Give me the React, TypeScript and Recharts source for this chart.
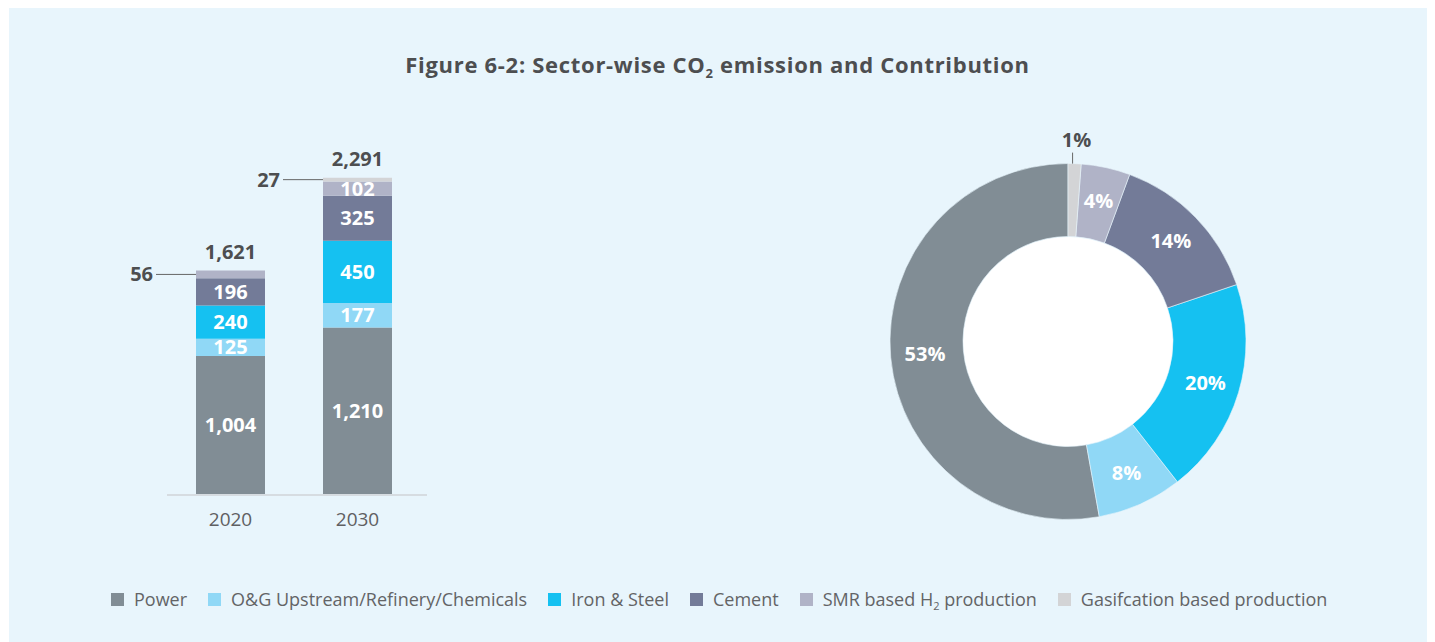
import React from "react";
import {
  BarChart,
  Bar,
  XAxis,
  YAxis,
  LabelList,
  ReferenceDot,
  PieChart,
  Pie,
  Cell,
} from "recharts";

const years = ["2020", "2030"];
const power = [1004, 1210];
const oilGas = [125, 177];
const ironSteel = [240, 450];
const cement = [196, 325];
const smr = [56, 102];
const gasification = [0, 27];
const totals = [1621, 2291];

const sectorKeys = ["power", "oilGas", "ironSteel", "cement", "smr", "gasification"];
const sectorNames = [
  "Power",
  "O&G Upstream/Refinery/Chemicals",
  "Iron & Steel",
  "Cement",
  "SMR based H2 production",
  "Gasifcation based production",
];
const sectorColors = ["#818d95", "#90d8f6", "#15c1f1", "#737b98", "#b0b3c7", "#d3d4d6"];

const barData = years.map((year, i) => ({
  year,
  power: power[i],
  oilGas: oilGas[i],
  ironSteel: ironSteel[i],
  cement: cement[i],
  smr: smr[i],
  gasification: gasification[i],
}));

// donut shows the 2030 split
const pieData = sectorKeys.map((key, i) => ({
  name: sectorNames[i],
  value: (barData[1] as any)[key],
  color: sectorColors[i],
}));

const FONT = "'Open Sans', Roboto, sans-serif";
const DARK = "#4d4e50";
const PANEL_BG = "#e8f5fc";

function fmt(v: number) {
  return v.toLocaleString("en-US");
}

function SegmentLabel(props: any) {
  const { x, y, width, height, value } = props;
  if (!value) return null;
  if (height < 10) {
    // too thin, put it on the left with a leader line
    const cy = y + height / 2;
    return (
      <g>
        <line x1={x - 40} y1={cy} x2={x} y2={cy} stroke="#666" strokeWidth={1} />
        <text
          x={x - 43}
          y={cy + 7}
          textAnchor="end"
          fill={DARK}
          fontSize={20}
          fontWeight={700}
          fontFamily={FONT}
        >
          {fmt(value)}
        </text>
      </g>
    );
  }
  return (
    <text
      x={x + width / 2}
      y={y + height / 2 + 7}
      textAnchor="middle"
      fill="#fff"
      fontSize={20}
      fontWeight={700}
      fontFamily={FONT}
    >
      {fmt(value)}
    </text>
  );
}

function YearTick(props: any) {
  const { x, y, payload } = props;
  return (
    <text x={x} y={y + 29} textAnchor="middle" fill="#5f6062" fontSize={19} fontFamily={FONT}>
      {payload.value}
    </text>
  );
}

const RAD = Math.PI / 180;

function PieLabel(props: any) {
  const { cx, cy, midAngle, innerRadius, outerRadius, percent } = props;
  const pct = Math.round(percent * 100);
  if (percent < 0.02) {
    const ox = cx + outerRadius * Math.cos(-midAngle * RAD) - 2;
    const oy = cy + outerRadius * Math.sin(-midAngle * RAD);
    return (
      <g>
        <line x1={ox} y1={oy} x2={ox} y2={oy - 11} stroke="#666" strokeWidth={1} />
        <text
          x={ox + 4}
          y={oy - 17}
          textAnchor="middle"
          fill={DARK}
          fontSize={20}
          fontWeight={700}
          fontFamily={FONT}
        >
          {pct}%
        </text>
      </g>
    );
  }
  const r = (innerRadius + outerRadius) / 2 + 2;
  const lx = cx + r * Math.cos(-midAngle * RAD);
  const ly = cy + r * Math.sin(-midAngle * RAD);
  return (
    <text
      x={lx}
      y={ly + 7}
      textAnchor="middle"
      fill="#fff"
      fontSize={20}
      fontWeight={700}
      fontFamily={FONT}
    >
      {pct}%
    </text>
  );
}

function LegendLabel({ name }: { name: string }) {
  if (name.includes("H2")) {
    const [a, b] = name.split("H2");
    return (
      <span>
        {a}H<sub style={{ fontSize: 11, verticalAlign: -4, lineHeight: 0 }}>2</sub>
        {b}
      </span>
    );
  }
  return <span>{name}</span>;
}

export default function App() {
  return (
    <div
      style={{
        position: "relative",
        margin: "-8px 0 0 -8px",
        width: 1435,
        height: 642,
        background: "#fff",
        fontFamily: FONT,
        overflow: "hidden",
      }}
    >
      <div
        style={{
          position: "absolute",
          left: 9,
          top: 7,
          width: 1421,
          height: 635,
          background: PANEL_BG,
        }}
      />

      <div
        style={{
          position: "absolute",
          left: 0,
          width: 1435,
          top: 50,
          textAlign: "center",
          fontSize: 22,
          fontWeight: 700,
          letterSpacing: 0.7,
          color: DARK,
          lineHeight: "28px",
        }}
      >
        Figure 6-2: Sector-wise CO
        <sub style={{ fontSize: 13, verticalAlign: -5, lineHeight: 0 }}>2</sub> emission and
        Contribution
      </div>

      <div style={{ position: "absolute", left: 100, top: 100 }}>
        <BarChart
          width={360}
          height={440}
          data={barData}
          margin={{ top: 35, right: 33, left: 67, bottom: 15 }}
          barSize={69}
        >
          <XAxis
            dataKey="year"
            axisLine={{ stroke: "#d6dce1", strokeWidth: 2 }}
            tickLine={false}
            tickSize={0}
            height={30}
            padding={{ left: 0, right: 6 }}
            tick={<YearTick />}
          />
          <YAxis hide domain={[0, 2600]} />
          {sectorKeys.map((key, i) => (
            <Bar
              key={key}
              dataKey={key}
              stackId="a"
              fill={sectorColors[i]}
              isAnimationActive={false}
            >
              <LabelList dataKey={key} content={<SegmentLabel />} />
            </Bar>
          ))}
          {years.map((year, i) => (
            <ReferenceDot
              key={year}
              x={year}
              y={totals[i]}
              r={0}
              fill="none"
              stroke="none"
              label={{
                value: fmt(totals[i]),
                position: "top",
                offset: 12,
                fill: DARK,
                fontSize: 20,
                fontWeight: 700,
                fontFamily: FONT,
              }}
            />
          ))}
        </BarChart>
      </div>

      {/* white hole of the donut */}
      <div
        style={{
          position: "absolute",
          left: 1068 - 105,
          top: 341.5 - 105,
          width: 210,
          height: 210,
          borderRadius: "50%",
          background: "#fff",
        }}
      />

      <div style={{ position: "absolute", left: 818, top: 111 }}>
        <PieChart width={500} height={461}>
          <Pie
            data={pieData}
            dataKey="value"
            cx={245}
            cy={225.5}
            innerRadius={105}
            outerRadius={178}
            startAngle={90}
            endAngle={450}
            stroke={PANEL_BG}
            strokeWidth={0.6}
            label={PieLabel}
            labelLine={false}
            isAnimationActive={false}
          >
            {pieData.map((d) => (
              <Cell key={d.name} fill={d.color} />
            ))}
          </Pie>
        </PieChart>
      </div>

      <div
        style={{
          position: "absolute",
          left: 111,
          top: 588,
          display: "flex",
          alignItems: "center",
          fontSize: 18,
          color: "#636466",
          lineHeight: "22px",
        }}
      >
        {sectorNames.map((name, i) => (
          <div key={name} style={{ display: "flex", alignItems: "center", marginRight: 21 }}>
            <span
              style={{
                display: "inline-block",
                width: 13,
                height: 13,
                background: sectorColors[i],
                marginRight: 10,
              }}
            />
            <LegendLabel name={name} />
          </div>
        ))}
      </div>
    </div>
  );
}
